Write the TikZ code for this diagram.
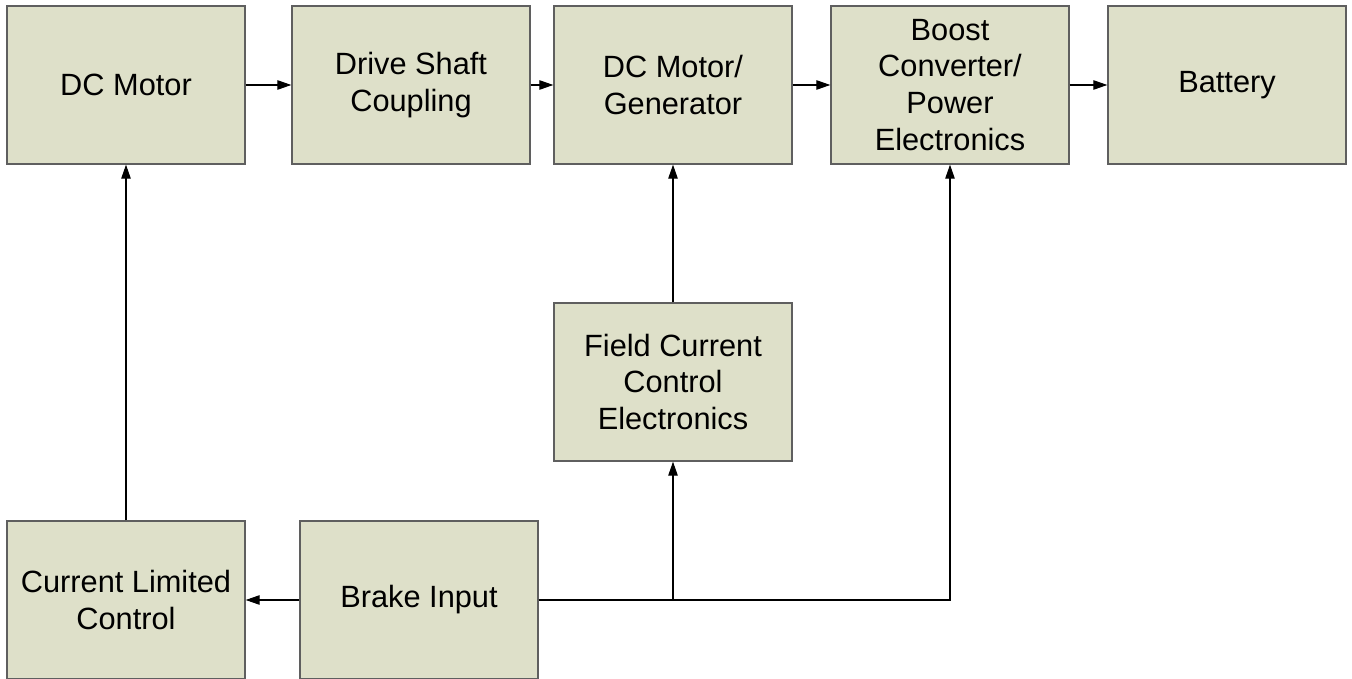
\documentclass[tikz,border=0pt]{standalone}
\usepackage{fontspec}
\setmainfont{Liberation Sans}
\usetikzlibrary{arrows.meta}
\definecolor{boxfill}{HTML}{DEE0C9}
\definecolor{boxline}{HTML}{5F5F5F}
\tikzset{
  block/.style={draw=boxline, line width=0.8pt, fill=boxfill, minimum width=4.76cm, minimum height=3.16cm,
    align=center, font=\fontsize{17.5}{21}\selectfont, inner sep=0pt},
  link/.style={line width=0.6pt, black}
}
\begin{document}
\begin{tikzpicture}[>={Triangle[length=0.28cm,width=0.19cm]}]
    \useasboundingbox (0,0) rectangle (27.04,-13.58);
    % obere Reihe
    \node[block] (motor) at (2.52, -1.70) {DC Motor};
    \node[block] (shaft) at (8.22, -1.70) {Drive Shaft\\Coupling};
    \node[block] (gen) at (13.46, -1.70) {DC Motor/\\Generator};
    \node[block] (boost) at (19.00, -1.70) {Boost\\Converter/\\Power\\Electronics};
    \node[block] (battery) at (24.54, -1.70) {Battery};
    
    % Feldstrom
    \node[block] (field) at (13.46, -7.64) {Field Current\\Control\\Electronics};
    
    % untere Reihe
    \node[block] (limit) at (2.52, -12.00) {Current Limited\\Control};
    \node[block] (brake) at (8.38, -12.00) {Brake Input};
    
    % Verbindungen
    \draw[link, ->] (motor) -- (shaft);
    \draw[link, ->] (shaft) -- (gen);
    \draw[link, ->] (gen) -- (boost);
    \draw[link, ->] (boost) -- (battery);
    \draw[link, ->] (field) -- (gen);
    \draw[link, ->] (brake) -- (limit);
    \draw[link, ->] (limit) -- (motor);
    \draw[link, ->] (brake.east) -| (field.south);
    \draw[link, ->] (brake.east) -| (boost.south);
\end{tikzpicture}
\end{document}
